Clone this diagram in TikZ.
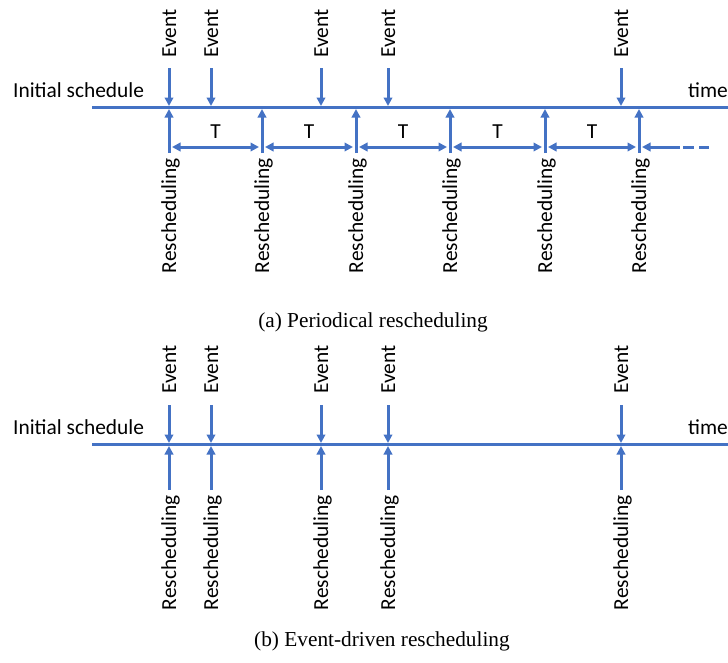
\documentclass[tikz,border=0pt]{standalone}
\usepackage{fontspec}
\setmainfont{Carlito}
\newfontfamily\capfont{Liberation Serif}
\usetikzlibrary{arrows.meta}
\definecolor{lineblue}{HTML}{4472C4}
\tikzset{
  axisline/.style={draw=lineblue, line width=3pt},
  evarrow/.style={draw=lineblue, line width=3pt, -{Triangle[length=8.5pt,width=8.5pt]}},
  periodarrow/.style={draw=lineblue, line width=3pt, {Triangle[length=8.5pt,width=8.5pt]}-{Triangle[length=8.5pt,width=8.5pt]}},
  leftarrow/.style={draw=lineblue, line width=3pt, {Triangle[length=8.5pt,width=8.5pt]}-},
  dashline/.style={draw=lineblue, line width=3pt, dash pattern=on 11pt off 5pt},
  lbl/.style={font=\fontsize{21.4}{25}\selectfont, inner sep=0pt},
  vlbl/.style={lbl, rotate=90},
  capt/.style={font=\capfont\fontsize{21.3}{25}\selectfont, inner sep=0pt, anchor=base},
}
\begin{document}
\begin{tikzpicture}[x=1pt,y=-1pt]
\useasboundingbox (0,0) rectangle (728,662);
% ---------- (a) Periodical ----------
\coordinate (aL) at (92,107.5);
\coordinate (aR) at (728,107.5);
\draw[axisline] (aL) -- (aR);
\node[lbl, anchor=base west] (ainit) at (13,97) {Initial schedule};
\node[lbl, anchor=base west] (atime) at (688,97) {time};
\foreach \i/\x in {1/169,2/211,3/321,4/388,5/621}{
  \coordinate (ae\i s) at (\x,68);
  \coordinate (ae\i t) at (\x,106);
  \draw[evarrow] (ae\i s) -- (ae\i t);
  \node[vlbl, anchor=base west] (aet\i) at (\x+7,58) {Event};
}
\foreach \i/\x in {1/169,2/262,3/356,4/450,5/545,6/639}{
  \coordinate (ar\i s) at (\x,153);
  \coordinate (ar\i t) at (\x,109);
  \coordinate (ap\i l) at (\x+3,147);
  \coordinate (ap\i r) at (\x-3,147);
  \draw[evarrow] (ar\i s) -- (ar\i t);
  \node[vlbl, anchor=base east] (art\i) at (\x+7,158) {Rescheduling};
}
\foreach \i/\j in {1/2,2/3,3/4,4/5,5/6}{
  \draw[periodarrow] (ap\i l) -- (ap\j r) node[lbl, midway, above=9pt, anchor=base] (aT\i) {T};
}
\coordinate (apend) at (680,147);
\coordinate (apdashs) at (683,147);
\coordinate (apdash) at (709,147);
\draw[leftarrow] (ap6l) -- (apend);
\draw[dashline] (apdashs) -- (apdash);
\node[capt] (capa) at (373,327) {(a) Periodical rescheduling};
% ---------- (b) Event-driven ----------
\coordinate (bL) at (92,444.5);
\coordinate (bR) at (728,444.5);
\draw[axisline] (bL) -- (bR);
\node[lbl, anchor=base west] (binit) at (13,434) {Initial schedule};
\node[lbl, anchor=base west] (btime) at (688,434) {time};
\foreach \i/\x in {1/169,2/211,3/321,4/388,5/621}{
  \coordinate (be\i s) at (\x,405);
  \coordinate (be\i t) at (\x,443);
  \draw[evarrow] (be\i s) -- (be\i t);
  \node[vlbl, anchor=base west] (bet\i) at (\x+7,394) {Event};
  \coordinate (br\i s) at (\x,490);
  \coordinate (br\i t) at (\x,446);
  \draw[evarrow] (br\i s) -- (br\i t);
  \node[vlbl, anchor=base east] (brt\i) at (\x+7,495) {Rescheduling};
}
\node[capt] (capb) at (382,646) {(b) Event-driven rescheduling};
\end{tikzpicture}
\end{document}
